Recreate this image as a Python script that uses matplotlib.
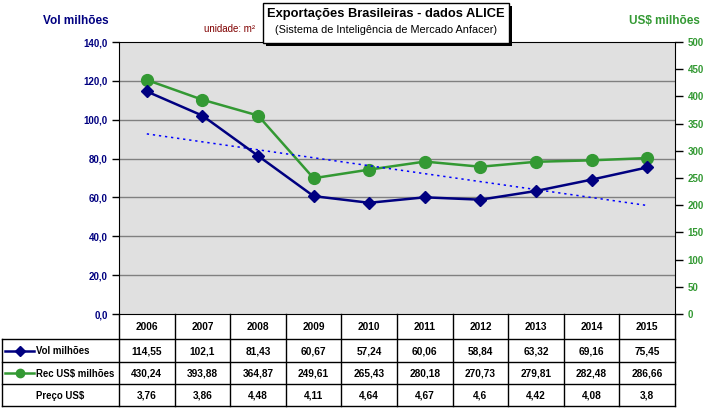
import matplotlib
matplotlib.use("Agg")
import matplotlib.pyplot as plt
import numpy as np
from matplotlib.lines import Line2D
from matplotlib.patches import Rectangle

plt.rcParams['font.family'] = ['Liberation Sans', 'DejaVu Sans']

years = ["2006", "2007", "2008", "2009", "2010", "2011", "2012", "2013", "2014", "2015"]
vol = [114.55, 102.1, 81.43, 60.67, 57.24, 60.06, 58.84, 63.32, 69.16, 75.45]
rec = [430.24, 393.88, 364.87, 249.61, 265.43, 280.18, 270.73, 279.81, 282.48, 286.66]
preco = [3.76, 3.86, 4.48, 4.11, 4.64, 4.67, 4.6, 4.42, 4.08, 3.8]
left_ticks = [0, 20, 40, 60, 80, 100, 120, 140]
right_ticks = [0, 50, 100, 150, 200, 250, 300, 350, 400, 450, 500]

W, H = 704, 409
fig = plt.figure(figsize=(W / 100, H / 100), dpi=100)
fig.patch.set_facecolor('white')

L, R, T, B = 119, 675, 42, 314
NAVY = '#000080'
GREEN = '#339933'

ax = fig.add_axes([L / W, 1 - B / H, (R - L) / W, (B - T) / H])
x = np.arange(len(years))
ax.set_xlim(-0.5, len(years) - 0.5)
ax.set_ylim(0, 140)
ax.set_yticks(left_ticks)
ax.set_yticklabels([f"{v:.1f}".replace('.', ',') for v in left_ticks],
                   color=NAVY, fontsize=7, fontweight='bold')
ax.set_xticks([])
ax.spines['right'].set_visible(False)
ax.spines['left'].set_color('black')
ax.spines['bottom'].set_color('black')
ax.spines['top'].set_color('black')
ax.tick_params(axis='y', length=5, width=1, pad=3, direction='out')

ax2 = ax.twinx()
ax2.set_ylim(0, 500)
ax2.set_yticks(right_ticks)
ax2.set_yticklabels([str(v) for v in right_ticks], color=GREEN, fontsize=7, fontweight='bold')
ax2.tick_params(axis='y', length=6, width=1, pad=3, direction='out')
for s in ['top', 'left', 'bottom']:
    ax2.spines[s].set_visible(False)
ax2.spines['right'].set_color('black')

# background & grid drawn on ax2 (lower), using left-axis tick positions
ax2.set_zorder(1)
ax.set_zorder(2)
ax2.patch.set_visible(True)
ax2.patch.set_facecolor('#E0E0E0')
ax.patch.set_alpha(0)
for v in left_ticks[1:-1]:
    ax2.axhline(v * 500 / 140, color='#808080', lw=1, zorder=0)

ax2.plot(x, rec, color=GREEN, lw=1.8, marker='o', ms=8.5, mfc=GREEN, mec=GREEN, zorder=4)

# trendline of volume
coef = np.polyfit(x, vol, 1)
ax.plot(x, np.polyval(coef, x), color='#0000FF', lw=1.1, ls=(0, (1.5, 2.5)), zorder=3)
ax.plot(x, vol, color=NAVY, lw=1.8, marker='D', ms=6.5, mfc=NAVY, mec=NAVY, zorder=5)

# overlay axes in pixel coordinates for table & titles
ov = fig.add_axes([0, 0, 1, 1], zorder=10)
ov.set_xlim(0, W)
ov.set_ylim(H, 0)
ov.axis('off')
ov.patch.set_alpha(0)

colw = (R - L) / len(years)
rows = [339, 362, 384, 406]
lc = 'black'
for k in range(len(years) + 1):
    xx = L + k * colw
    ov.add_line(Line2D([xx, xx], [B, rows[-1]], color=lc, lw=1))
ov.add_line(Line2D([2, 2], [rows[0], rows[-1]], color=lc, lw=1))
for yy in rows:
    ov.add_line(Line2D([2, R], [yy, yy], color=lc, lw=1))

fs = 7.3
for k, yr in enumerate(years):
    cx = L + (k + 0.5) * colw
    ov.text(cx, (B + rows[0]) / 2 + 1, yr, ha='center', va='center', fontsize=fs, fontweight='bold')
    ov.text(cx, (rows[0] + rows[1]) / 2 + 1, str(vol[k]).replace('.', ','), ha='center', va='center', fontsize=fs, fontweight='bold')
    ov.text(cx, (rows[1] + rows[2]) / 2 + 1, str(rec[k]).replace('.', ','), ha='center', va='center', fontsize=fs, fontweight='bold')
    ov.text(cx, (rows[2] + rows[3]) / 2 + 1, str(preco[k]).replace('.', ','), ha='center', va='center', fontsize=fs, fontweight='bold')

lfs = 6.9
ym = (rows[0] + rows[1]) / 2
ov.add_line(Line2D([5, 34], [ym, ym], color=NAVY, lw=1.8))
ov.plot([20], [ym], marker='D', ms=5, color=NAVY)
ov.text(36, ym + 1, 'Vol milhões', ha='left', va='center', fontsize=lfs, fontweight='bold')
ym = (rows[1] + rows[2]) / 2
ov.add_line(Line2D([5, 34], [ym, ym], color=GREEN, lw=1.8))
ov.plot([20], [ym], marker='o', ms=6, color=GREEN)
ov.text(36, ym + 1, 'Rec US$ milhões', ha='left', va='center', fontsize=lfs, fontweight='bold')
ym = (rows[2] + rows[3]) / 2
ov.text(36, ym + 1, 'Preço US$', ha='left', va='center', fontsize=lfs, fontweight='bold')

# title box with shadow
ov.add_patch(Rectangle((266, 6), 246, 40, facecolor='black', edgecolor='none'))
ov.add_patch(Rectangle((263, 3), 246, 40, facecolor='white', edgecolor='black', lw=1))
ov.text(386, 14, 'Exportações Brasileiras - dados ALICE', ha='center', va='center',
        fontsize=9.3, fontweight='bold')
ov.text(386, 30, '(Sistema de Inteligência de Mercado Anfacer)', ha='center', va='center',
        fontsize=7.8)

ov.text(76, 21, 'Vol milhões', ha='center', va='center', fontsize=8.5, fontweight='bold', color=NAVY)
ov.text(230, 29, 'unidade: m²', ha='center', va='center', fontsize=7, color='#800000')
ov.text(664, 21, 'US$ milhões', ha='center', va='center', fontsize=8.5, fontweight='bold', color=GREEN)

fig.savefig('out.png', dpi=100)
